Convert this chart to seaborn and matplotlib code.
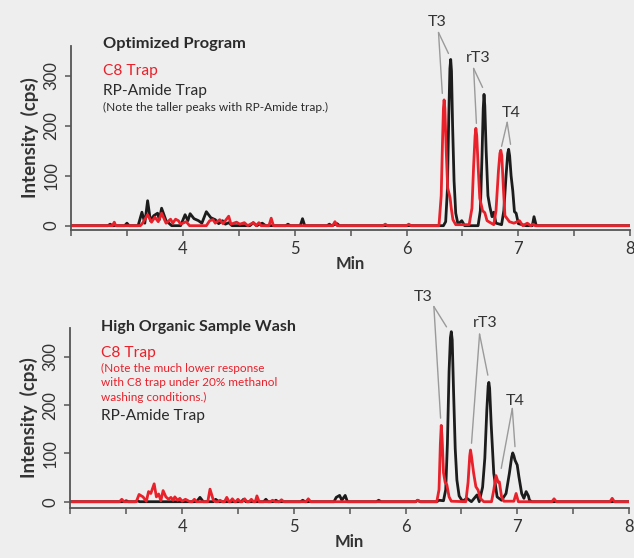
import numpy as np
import pandas as pd
import matplotlib
matplotlib.use("Agg")
import matplotlib.pyplot as plt
import seaborn as sns

# ---------------- data ----------------
# Top panel: Optimized Program
top_rp_time = [3.00, 3.33, 3.35, 3.37, 3.48, 3.50, 3.52, 3.60, 3.634, 3.66, 3.685, 3.71, 3.74, 3.774, 3.79,
               3.81, 3.85, 3.90, 3.98, 4.02, 4.045, 4.065, 4.10, 4.14, 4.17, 4.21, 4.25, 4.29, 4.32,
               4.355, 4.38, 4.41, 4.44, 4.60, 4.63, 4.66, 4.71, 4.74, 4.92, 4.94, 4.96, 5.05, 5.07, 5.09,
               5.29, 5.31, 5.33, 5.38, 5.40, 6.33, 6.35, 6.365, 6.378, 6.388, 6.395, 6.402, 6.412,
               6.425, 6.44, 6.46, 6.494, 6.52,
               6.64, 6.66, 6.675, 6.686, 6.693, 6.70, 6.712, 6.728, 6.745, 6.765, 6.78, 6.80, 6.85,
               6.87, 6.89, 6.905, 6.913, 6.922, 6.935, 6.95, 6.965, 6.98, 7.00, 7.07, 7.125, 7.14,
               7.16, 8.00]
top_rp_int = [0, 0, 3, 0, 0, 5, 0, 0, 27, 5, 50, 10, 20, 25, 12,
              35, 10, 0, 0, 22, 10, 24, 14, 10, 5, 28, 16, 12, 4,
              10, 3, 6, 0, 0, 6, 0, 5, 0, 0, 3, 0, 0, 14, 0,
              0, 3, 0, 4, 0, 0, 8, 70, 220, 315, 333, 310, 200,
              90, 25, 3, 10, 0,
              0, 30, 140, 235, 263, 240, 150, 60, 38, 18, 27, 5, 2,
              30, 100, 145, 153, 140, 100, 70, 28, 25, 4, 0, 0, 18,
              0, 0]

top_c8_time = [3.00, 3.37, 3.387, 3.40, 3.62, 3.64, 3.685, 3.72, 3.75, 3.78, 3.81, 3.85, 3.89, 3.91,
               3.935, 3.96, 3.98, 4.03, 4.06, 4.21, 4.24, 4.27, 4.29, 4.33, 4.36, 4.41, 4.43, 4.48,
               4.51, 4.55, 4.58, 4.63, 4.655, 4.68, 4.70, 4.77, 4.79, 4.81, 5.34, 5.36, 5.38,
               5.79, 5.81, 5.83, 6.00, 6.02, 6.04, 6.29, 6.31, 6.322, 6.33, 6.336, 6.343, 6.355,
               6.368, 6.38, 6.39, 6.40, 6.415, 6.44,
               6.56, 6.585, 6.60, 6.613, 6.62, 6.628, 6.64, 6.655, 6.68, 6.70, 6.72, 6.78, 6.80,
               6.822, 6.835, 6.843, 6.852, 6.865, 6.88, 6.92,
               6.96, 7.01, 7.04, 7.08, 7.11, 7.13, 7.15, 8.00]
top_c8_int = [0, 0, 7, 0, 0, 5, 22, 7, 17, 8, 25, 5, 13, 5,
              13, 10, 3, 8, 0, 0, 10, 12, 5, 12, 4, 19, 3, 7,
              3, 6, 0, 6, 0, 6, 0, 0, 15, 0, 0, 8, 0,
              0, 3, 0, 0, 3, 0, 0, 60, 170, 235, 252, 235, 150,
              75, 65, 55, 35, 12, 2,
              2, 35, 120, 180, 195, 180, 120, 55, 30, 26, 10, 2, 30,
              110, 145, 151, 140, 80, 20, 8,
              5, 10, 0, 5, 0, 3, 0, 0]

# Bottom panel: High Organic Sample Wash
bot_rp_time = [3.00, 3.48, 3.50, 3.52, 3.58, 3.60, 3.62, 4.13, 4.16, 4.19, 4.28, 4.30, 4.33,
               4.53, 4.55, 4.57, 4.73, 4.75, 4.77, 4.82, 4.84, 4.86, 5.06, 5.08, 5.10, 5.36, 5.38,
               5.41, 5.43, 5.46, 5.48, 5.74, 5.76, 5.78, 6.09, 6.11, 6.13, 6.28, 6.30, 6.34,
               6.36, 6.375, 6.39, 6.402, 6.41, 6.418, 6.43, 6.445, 6.46, 6.48, 6.51, 6.55, 6.59,
               6.64, 6.66, 6.69, 6.71, 6.728, 6.74, 6.746, 6.753, 6.767, 6.79, 6.82, 6.86,
               6.90, 6.93, 6.95, 6.96, 6.97, 6.98, 7.00, 7.015, 7.04, 7.06, 7.08, 7.10, 7.11,
               7.13, 8.00]
bot_rp_int = [0, 0, 2, 0, 0, 2, 0, 0, 9, 0, 0, 5, 0,
              0, 5, 0, 0, 5, 0, 0, 3, 0, 0, 3, 0, 0, 9,
              13, 3, 13, 0, 0, 3, 0, 0, 3, 0, 0, 3, 2,
              25, 120, 270, 340, 352, 335, 230, 110, 45, 12, 1, 7, 0,
              14, 0, 30, 90, 190, 240, 247, 235, 160, 59, 10, 3,
              17, 59, 92, 101, 95, 86, 76, 52, 17, 7, 21, 12, 3,
              0, 0]

bot_c8_time = [3.00, 3.44, 3.46, 3.48, 3.59, 3.615, 3.65, 3.68, 3.70, 3.72, 3.75, 3.77, 3.79, 3.81,
               3.83, 3.855, 3.88, 3.90, 3.92, 3.935, 3.96, 3.98, 4.00, 4.03, 4.07, 4.09, 4.11, 4.13,
               4.23, 4.25, 4.28, 4.30, 4.32, 4.34, 4.36, 4.38, 4.40, 4.42, 4.43, 4.45, 4.47, 4.48,
               4.50, 4.52, 4.54, 4.56, 4.58, 4.60, 4.62, 4.64, 4.655, 4.67, 4.69, 4.79, 4.81, 4.83,
               4.87, 4.89, 4.91, 5.11, 5.13, 5.15, 6.09, 6.11, 6.13, 6.28, 6.30, 6.312, 6.32, 6.328,
               6.34, 6.355, 6.37, 6.39, 6.41, 6.54, 6.56, 6.575, 6.582, 6.59, 6.61, 6.63, 6.65,
               6.67, 6.70, 6.77, 6.79, 6.81, 6.83, 6.84, 6.86, 6.88, 6.97, 6.99, 7.01, 7.31, 7.33,
               7.35, 7.83, 7.85, 7.87, 8.00]
bot_c8_int = [0, 0, 5, 0, 0, 15, 10, 1, 21, 17, 37, 10, 16, 2,
              23, 10, 5, 9, 3, 10, 3, 7, 1, 5, 0, 0, 5, 0,
              0, 26, 3, 0, 0, 3, 0, 0, 9, 0, 0, 6, 0, 0,
              5, 0, 0, 6, 0, 0, 5, 0, 0, 12, 0, 0, 3, 0,
              0, 4, 0, 0, 6, 0, 0, 3, 0, 0, 25, 120, 158, 130,
              60, 40, 35, 10, 1, 0, 40, 95, 107, 95, 59, 31, 24,
              7, 0, 0, 24, 54, 40, 41, 10, 1, 1, 17, 0, 0, 6,
              0, 0, 7, 0, 0]

x_ticks = [3.0, 3.5, 4.0, 4.5, 5.0, 5.5, 6.0, 6.5, 7.0, 7.5, 8.0]
x_tick_labels = ["", "", "4", "", "5", "", "6", "", "7", "", "8"]
y_ticks = [0, 100, 200, 300]
y_tick_labels = ["0", "100", "200", "300"]

RED = "#e8212b"
BLACK = "#1c1c1c"
GREY = "#9a9a9a"
BG = "#eeeeee"
SPINE = "#555555"
TXT = "#2a2a2a"

sns.set_theme(style="ticks")
plt.rcParams["font.family"] = ["Lato", "DejaVu Sans"]
plt.rcParams["axes.facecolor"] = BG
plt.rcParams["figure.facecolor"] = BG

fig = plt.figure(figsize=(6.34, 5.58), dpi=100)
ax_top = fig.add_axes([0.112, 0.5884, 0.882, 0.3292])
ax_bot = fig.add_axes([0.111, 0.0905, 0.881, 0.3220])


def draw_panel(ax, t_rp, i_rp, t_c8, i_c8, ylim):
    df_rp = pd.DataFrame({"Min": t_rp, "Intensity": i_rp})
    df_c8 = pd.DataFrame({"Min": t_c8, "Intensity": i_c8})
    sns.lineplot(data=df_rp, x="Min", y="Intensity", ax=ax, color=BLACK, lw=2.0,
                 estimator=None, sort=False)
    sns.lineplot(data=df_c8, x="Min", y="Intensity", ax=ax, color=RED, lw=2.0,
                 estimator=None, sort=False)
    ax.set_xlim(3.0, 8.0)
    ax.set_ylim(*ylim)
    ax.set_xticks(x_ticks)
    ax.set_xticklabels(x_tick_labels, fontsize=12, color="#333333")
    ax.set_yticks(y_ticks)
    ax.set_yticklabels(y_tick_labels, fontsize=12, color="#333333", rotation=90, va="center")
    ax.set_xlabel("Min", fontsize=12, fontweight="bold", color="#333333", labelpad=-1)
    ax.set_ylabel("Intensity  (cps)", fontsize=13.5, fontweight="bold", color="#333333",
                  labelpad=3)
    for s in ["top", "right"]:
        ax.spines[s].set_visible(False)
    for s in ["left", "bottom"]:
        ax.spines[s].set_color(SPINE)
        ax.spines[s].set_linewidth(1.3)
    ax.tick_params(axis="both", direction="out", length=4, width=1.1, color=SPINE, pad=4.5)
    ax.grid(False)


def peak_label(ax, label, txy, start, ends):
    ax.text(txy[0], txy[1], label, fontsize=11.5, color="#333333", ha="center", va="center",
            clip_on=False)
    for e in ends:
        ax.plot([start[0], e[0]], [start[1], e[1]], color=GREY, lw=1.0, clip_on=False)


draw_panel(ax_top, top_rp_time, top_rp_int, top_c8_time, top_c8_int, (-8, 360))
draw_panel(ax_bot, bot_rp_time, bot_rp_int, bot_c8_time, bot_c8_int, (-12, 360))

# Top annotations
ax_top.text(3.286, 363, "Optimized Program", fontsize=11.8, fontweight="bold", color=TXT,
            va="center", clip_on=False)
ax_top.text(3.286, 309, "C8 Trap", fontsize=11.2, color=RED, va="center")
ax_top.text(3.286, 269, "RP-Amide Trap", fontsize=11.2, color=TXT, va="center")
ax_top.text(3.286, 237, "(Note the taller peaks with RP-Amide trap.)", fontsize=8.6, color=TXT,
            va="center")
peak_label(ax_top, "T3", (6.27, 408), (6.286, 387), [(6.32, 265), (6.375, 345)])
peak_label(ax_top, "rT3", (6.643, 335), (6.60, 315), [(6.625, 205), (6.68, 277)])
peak_label(ax_top, "T4", (6.94, 225), (6.90, 207), [(6.85, 159), (6.93, 163)])

# Bottom annotations
ax_bot.text(3.27, 362, "High Organic Sample Wash", fontsize=11.5, fontweight="bold", color=TXT,
            va="center", clip_on=False)
ax_bot.text(3.27, 308, "C8 Trap", fontsize=11.2, color=RED, va="center")
ax_bot.text(3.27, 276, "(Note the much lower response", fontsize=8.5, color=RED, va="center")
ax_bot.text(3.27, 246, "with C8 trap under 20% methanol", fontsize=8.5, color=RED, va="center")
ax_bot.text(3.27, 216, "washing conditions.)", fontsize=8.5, color=RED, va="center")
ax_bot.text(3.27, 177, "RP-Amide Trap", fontsize=11.2, color=TXT, va="center")
peak_label(ax_bot, "T3", (6.154, 423), (6.254, 404), [(6.314, 173), (6.367, 362)])
peak_label(ax_bot, "rT3", (6.717, 371), (6.663, 347), [(6.591, 121), (6.737, 262)])
peak_label(ax_bot, "T4", (6.98, 209), (6.956, 193), [(6.857, 69), (6.98, 114)])

fig.savefig("out.png", dpi=100, facecolor=BG)
